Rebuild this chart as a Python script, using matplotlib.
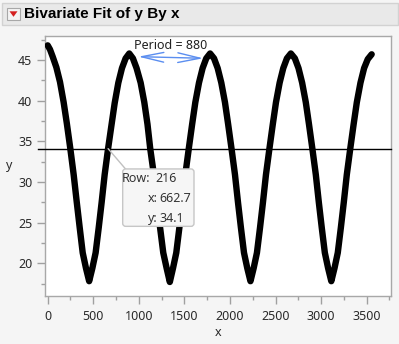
import matplotlib
matplotlib.use("Agg")
from matplotlib import pyplot as plt
from matplotlib.patches import FancyBboxPatch, Rectangle, Polygon
from matplotlib.ticker import MultipleLocator
from matplotlib.transforms import IdentityTransform

plt.rcParams["font.family"] = ["Noto Sans", "DejaVu Sans"]

# ------------------------------------------------------------------------------
#  Data
# ------------------------------------------------------------------------------

x_vals = [
    0, 25, 55, 95, 135, 175, 210, 247, 285, 318, 350, 384, 420, 455,
    490, 526, 560, 592, 625, 662.7, 700, 735, 775, 815, 855, 895,
    935, 975, 1020, 1060, 1095, 1125, 1165, 1200, 1233, 1268, 1305, 1340,
    1375, 1411, 1445, 1477, 1510, 1548, 1585, 1620, 1660, 1700, 1740, 1782,
    1825, 1865, 1905, 1945, 1980, 2017, 2055, 2088, 2120, 2154, 2190, 2225,
    2260, 2296, 2330, 2362, 2395, 2433, 2470, 2505, 2545, 2585, 2625, 2668,
    2712, 2752, 2792, 2832, 2867, 2904, 2942, 2975, 3007, 3041, 3077, 3112,
    3147, 3183, 3217, 3249, 3282, 3320, 3357, 3392, 3432, 3472, 3512, 3555,
]
y_vals = [
    46.8, 46.3, 45.4, 44.1, 42.3, 39.8, 37.2, 34.2, 30.9, 27.6, 24.5, 21.3, 19.4, 17.8,
    19.4, 21.3, 24.4, 27.5, 30.9, 34.1, 37.0, 39.7, 42.2, 44.0, 45.2, 45.8,
    45.2, 44.0, 42.2, 39.8, 37.1, 34.1, 30.9, 27.5, 24.4, 21.3, 19.4, 17.7,
    19.4, 21.3, 24.4, 27.5, 30.9, 34.1, 37.1, 39.8, 42.2, 44.0, 45.2, 45.8,
    45.2, 44.0, 42.2, 39.8, 37.1, 34.1, 30.9, 27.5, 24.4, 21.3, 19.4, 17.8,
    19.4, 21.3, 24.4, 27.5, 30.9, 34.1, 37.1, 39.8, 42.2, 44.0, 45.2, 45.8,
    45.2, 44.0, 42.2, 39.8, 37.1, 34.1, 30.9, 27.5, 24.4, 21.3, 19.4, 17.8,
    19.4, 21.3, 24.4, 27.5, 30.9, 34.1, 37.1, 39.8, 42.2, 44.0, 45.1, 45.7,
]

# Hovered row
row_id = 216
row_x = 662.7
row_y = 34.1

# Period measurement
period = 880
period_x = [994, 1707]
period_y = [45.41, 45.21]

W, H = 399, 344


def px(x, y):
    # pixel (from top-left) -> figure fraction
    return x / W, 1 - y / H


# ------------------------------------------------------------------------------
#  Plot
# ------------------------------------------------------------------------------

fig = plt.figure(figsize=(W / 100, H / 100), dpi=100, facecolor="#f5f5f5")

# Title bar
fig.patches.append(
    Rectangle(px(2, 25), 396 / W, 22.3 / H, transform=fig.transFigure,
              fc="#e9e9e9", ec="#d2d2d2", lw=1)
)
fig.patches.append(
    Rectangle(px(7, 19.5), 13 / W, 11 / H, transform=fig.transFigure,
              fc="#f4f4f4", ec="#a8a8a8", lw=0.8)
)
fig.patches.append(
    Polygon([px(9.5, 11.3), px(17.5, 11.3), px(13.5, 16.8)], closed=True,
            transform=fig.transFigure, fc="#d42020", ec="none")
)
fig.text(*px(24, 14), "Bivariate Fit of y By x", fontsize=11, fontweight="bold",
         family=["Liberation Sans", "DejaVu Sans"],
         ha="left", va="center", color="black")

ax = fig.add_axes([45 / W, 1 - 296 / H, 346 / W, 260 / H])
ax.set_facecolor("white")

ax.plot(x_vals, y_vals, color="black", lw=4.6, solid_capstyle="round",
        solid_joinstyle="round", zorder=3)

ax.set_xlim(-29.6, 3767)
ax.set_ylim(15.98, 47.95)

ax.xaxis.set_major_locator(MultipleLocator(500))
ax.xaxis.set_minor_locator(MultipleLocator(250))
ax.yaxis.set_major_locator(MultipleLocator(5))
ax.yaxis.set_minor_locator(MultipleLocator(2.5))
ax.tick_params(which="both", direction="out", color="#a0a0a0", width=1,
               labelsize=9, labelcolor="#2a2a2a", top=False, right=False)
ax.tick_params(which="major", length=6)
ax.tick_params(which="minor", length=3)
ax.tick_params(axis="x", pad=4)
ax.tick_params(axis="y", pad=3)
for s in ax.spines.values():
    s.set_color("#a8a8a8")
    s.set_linewidth(1)

fig.text(*px(218, 333), "x", fontsize=9, ha="center", va="center", color="#2a2a2a")
fig.text(*px(9, 166), "y", fontsize=9, ha="center", va="center", color="#2a2a2a")

# Crosshair through the hovered row
ax.axhline(row_y, xmin=-0.02, xmax=1, color="black", lw=1, clip_on=False, zorder=4)

# Period arrow
ax.annotate("", xy=(period_x[0], period_y[0]), xytext=(period_x[1], period_y[1]),
            arrowprops=dict(arrowstyle="<->,head_length=1.6,head_width=0.35",
                            color="#5b8ef0", lw=1, shrinkA=0, shrinkB=0,
                            mutation_scale=10), zorder=5)
ax.text(sum(period_x) / 2, 46.84, f"Period = {period}", fontsize=9,
        ha="center", va="center", color="#222222", zorder=5)

# Hover label
fig.canvas.draw()
p0 = ax.transData.transform((row_x, row_y))
ax.annotate("", xy=(row_x, row_y), xytext=(18, -21), textcoords="offset pixels",
            arrowprops=dict(arrowstyle="-", color="#c0c0c0", lw=1,
                            shrinkA=0, shrinkB=0), zorder=5)
box = FancyBboxPatch((p0[0] + 14.6, p0[1] - 20.3 - 57.4), 71.3, 57.4,
                     boxstyle="round,pad=0,rounding_size=3",
                     transform=IdentityTransform(), fc="#f6f6f6",
                     ec="#c6c6c6", lw=1, zorder=6, clip_on=False)
ax.add_patch(box)
tip_rows = [
    ("Row:", str(row_id), -30.3, 41.9, 46.9),
    ("x:", f"{row_x}", -50.3, 49.2, 51.0),
    ("y:", f"{row_y}", -70.3, 49.2, 51.0),
]
for key, val, dy, kx, vx in tip_rows:
    ax.annotate(key, xy=(row_x, row_y), xytext=(kx, dy), textcoords="offset pixels",
                ha="right", va="center", fontsize=9, color="#333333", zorder=7)
    ax.annotate(val, xy=(row_x, row_y), xytext=(vx, dy), textcoords="offset pixels",
                ha="left", va="center", fontsize=9, color="#333333", zorder=7)

fig.savefig("out.png", dpi=100, facecolor=fig.get_facecolor())
